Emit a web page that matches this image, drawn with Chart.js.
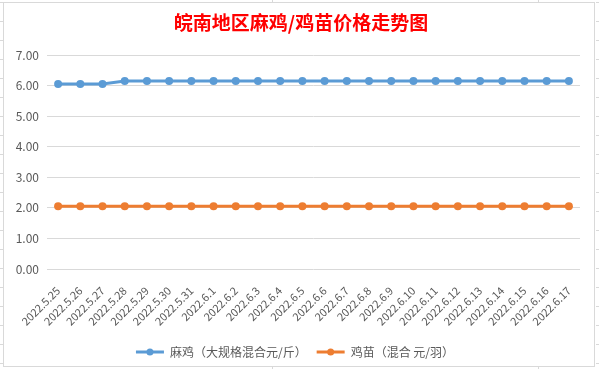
<!DOCTYPE html>
<html>
<head>
<meta charset="utf-8">
<script src="https://cdn.jsdelivr.net/npm/chart.js@4.4.1/dist/chart.umd.min.js"></script>
<style>
  html, body { margin: 0; padding: 0; background: #fff; }
  #wrap { position: relative; width: 599px; height: 369px; overflow: hidden; }
  .frame { position: absolute; left: 3px; top: 2px; width: 590px; height: 363px; border: 1px solid #d9d9d9; }
  .side { position: absolute; top: 2px; width: 3px; height: 367px;
          background: repeating-linear-gradient(to bottom, #d9d9d9 0 1px, transparent 1px 19px); }
  .tick { position: absolute; width: 1px; height: 2px; background: #d9d9d9; }
  #chart { position: absolute; left: 0; top: 0; }
  #title { position: absolute; left: 0; top: 9px; width: 602px; text-align: center;
           font: bold 19px "Noto Sans CJK SC", sans-serif; color: #ff0000; line-height: 26px; }
</style>
</head>
<body>
<div id="wrap">
  <div class="frame"></div>
  <div class="side" style="left:0"></div>
  <div class="side" style="left:596px"></div>
  <div class="tick" style="left:272px;top:0"></div>
  <div class="tick" style="left:538px;top:0"></div>
  <div class="tick" style="left:272px;top:367px"></div>
  <div class="tick" style="left:538px;top:367px"></div>
  <canvas id="chart" width="599" height="369"></canvas>
  <div id="title">皖南地区麻鸡/鸡苗价格走势图</div>
</div>
<script>
const dates = ['2022.5.25', '2022.5.26', '2022.5.27', '2022.5.28', '2022.5.29', '2022.5.30',
  '2022.5.31', '2022.6.1', '2022.6.2', '2022.6.3', '2022.6.4', '2022.6.5', '2022.6.6',
  '2022.6.7', '2022.6.8', '2022.6.9', '2022.6.10', '2022.6.11', '2022.6.12', '2022.6.13',
  '2022.6.14', '2022.6.15', '2022.6.16', '2022.6.17'];

// 麻鸡（大规格混合 元/斤）
const majiPrice = [6.05, 6.05, 6.05, 6.15, 6.15, 6.15, 6.15, 6.15, 6.15, 6.15, 6.15, 6.15,
  6.15, 6.15, 6.15, 6.15, 6.15, 6.15, 6.15, 6.15, 6.15, 6.15, 6.15, 6.15];

// 鸡苗（混合 元/羽）
const jimiaoPrice = [2.05, 2.05, 2.05, 2.05, 2.05, 2.05, 2.05, 2.05, 2.05, 2.05, 2.05, 2.05,
  2.05, 2.05, 2.05, 2.05, 2.05, 2.05, 2.05, 2.05, 2.05, 2.05, 2.05, 2.05];

const seriesNames = ['麻鸡（大规格混合元/斤）', '鸡苗（混合 元/羽）'];
const yTicks = [0, 1, 2, 3, 4, 5, 6, 7];

const blue = '#5b9bd5';
const orange = '#ed7d31';
const textColor = '#595959';
const fontFamily = '"Noto Sans CJK SC", "Noto Sans", sans-serif';

// draws the dot in the middle of each legend line
const legendDots = {
  id: 'legendDots',
  afterDraw(chart) {
    const legend = chart.legend;
    if (!legend || !legend.legendHitBoxes) return;
    const ctx = chart.ctx;
    const bw = legend.options.labels.boxWidth;
    const fs = legend.options.labels.font.size;
    legend.legendHitBoxes.forEach((hb, i) => {
      ctx.save();
      ctx.fillStyle = chart.data.datasets[i].borderColor;
      ctx.beginPath();
      ctx.arc(hb.left + bw / 2, hb.top + fs / 2, 3.5, 0, Math.PI * 2);
      ctx.fill();
      ctx.restore();
    });
  }
};

function makeDataset(label, values, color) {
  return {
    label: label,
    data: values,
    borderColor: color,
    backgroundColor: color,
    borderWidth: 3,
    pointRadius: 4,
    pointBorderWidth: 0,
    pointBackgroundColor: color,
    tension: 0
  };
}

new Chart(document.getElementById('chart').getContext('2d'), {
  type: 'line',
  data: {
    labels: dates,
    datasets: [
      makeDataset(seriesNames[0], majiPrice, blue),
      makeDataset(seriesNames[1], jimiaoPrice, orange)
    ]
  },
  options: {
    responsive: false,
    animation: false,
    layout: { padding: { top: 55, left: 10, right: 19, bottom: 1 } },
    plugins: {
      title: { display: false },
      legend: {
        position: 'bottom',
        labels: {
          color: textColor,
          font: { family: fontFamily, size: 12 },
          boxWidth: 28,
          boxHeight: 3,
          padding: 10,
          generateLabels(chart) {
            return chart.data.datasets.map((ds, i) => ({
              text: ds.label,
              fillStyle: ds.borderColor,
              strokeStyle: ds.borderColor,
              lineWidth: 0,
              hidden: false,
              datasetIndex: i,
              fontColor: textColor
            }));
          }
        }
      },
      tooltip: { enabled: false }
    },
    scales: {
      x: {
        offset: true,
        grid: { display: false },
        border: { display: false },
        afterFit(axis) { axis.height = 67; },
        ticks: {
          color: textColor,
          font: { family: fontFamily, size: 11 },
          maxRotation: 45,
          minRotation: 45,
          autoSkip: false,
          padding: 7
        }
      },
      y: {
        min: yTicks[0],
        max: yTicks[yTicks.length - 1],
        afterBuildTicks(axis) {
          axis.ticks = yTicks.map(v => ({ value: v }));
        },
        afterFit(axis) { axis.width = 37; },
        grid: { color: '#d9d9d9', drawTicks: false },
        border: { display: false },
        ticks: {
          color: textColor,
          font: { family: fontFamily, size: 12 },
          padding: 8,
          callback: v => Number(v).toFixed(2)
        }
      }
    }
  },
  plugins: [legendDots]
});
</script>
</body>
</html>
